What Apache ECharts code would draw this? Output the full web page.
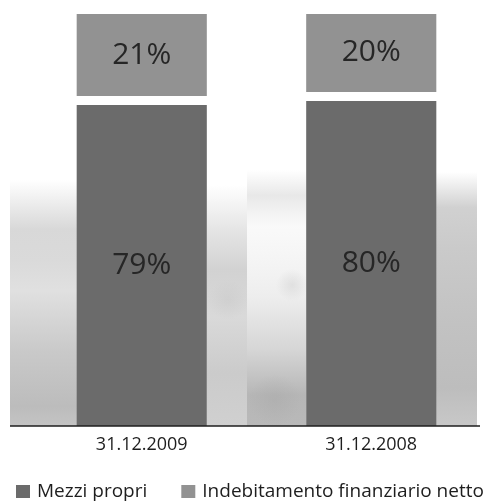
<!DOCTYPE html>
<html>
<head>
<meta charset="utf-8">
<script src="https://cdn.jsdelivr.net/npm/echarts@6/dist/echarts.min.js"></script>
<style>
  html, body { margin: 0; padding: 0; background: #fff; }
  #chart { width: 486px; height: 502px; }
</style>
</head>
<body>
<div id="chart"></div>
<script>
// Capital structure at year end (percent of total)
const categories = ['31.12.2009', '31.12.2008'];
const mezziPropri = [79, 80];
const indebitamento = [21, 20];
const seriesNames = ['Mezzi propri', 'Indebitamento finanziario netto'];

const DARK = '#6b6b6b';
const LIGHT = '#929292';
const GAP = 9;           // white gap between the two segments, px
const BAR_RATIO = 0.567; // bar width relative to category band
const FONT = '"Open Sans", "Noto Sans", sans-serif';

const chart = echarts.init(document.getElementById('chart'), null, { renderer: 'canvas' });

function segment(isTop) {
  return function (params, api) {
    const i = api.value(0);
    const low = api.value(1);
    const high = api.value(2);
    const p0 = api.coord([i, low]);
    const p1 = api.coord([i, high]);
    const w = api.size([1, 0])[0] * BAR_RATIO;
    let y0 = p0[1], y1 = p1[1];
    if (isTop) { y0 -= GAP / 2; } else { y1 += GAP / 2; }
    const h = y0 - y1;
    return {
      type: 'group',
      children: [
        {
          type: 'rect',
          shape: { x: p0[0] - w / 2, y: y1, width: w, height: h },
          style: { fill: isTop ? LIGHT : DARK }
        },
        {
          type: 'text',
          style: {
            text: (high - low) + '%',
            x: p0[0], y: y1 + h / 2,
            align: 'center', verticalAlign: 'middle',
            fill: '#262626',
            font: '30px ' + FONT
          }
        }
      ]
    };
  };
}

const darkData = categories.map((c, i) => [i, 0, mezziPropri[i]]);
const lightData = categories.map((c, i) => [i, mezziPropri[i], mezziPropri[i] + indebitamento[i]]);

// soft, blurred photographic backdrop behind the bars
function panel(x, y, w, h, stops) {
  return {
    type: 'rect', silent: true, z: -11,
    shape: { x: x, y: y, width: w, height: h },
    style: {
      fill: {
        type: 'linear', x: 0, y: 0, x2: 0, y2: 1,
        colorStops: stops.map(s => ({ offset: s[0], color: s[1] }))
      }
    }
  };
}
function blob(cx, cy, rx, ry, gray, a) {
  return {
    type: 'ellipse', silent: true, z: -10,
    shape: { cx: cx, cy: cy, rx: rx, ry: ry },
    style: {
      fill: {
        type: 'radial', x: 0.5, y: 0.5, r: 0.5,
        colorStops: [
          { offset: 0, color: `rgba(${gray},${gray},${gray},${a})` },
          { offset: 1, color: `rgba(${gray},${gray},${gray},0)` }
        ]
      }
    }
  };
}

const backdrop = [
  panel(10, 180, 67, 246, [
    [0, 'rgba(214,214,214,0)'], [0.2, 'rgba(214,214,214,0.95)'], [0.33, '#dadada'],
    [0.45, '#e0e0e0'], [0.7, '#c9c9c9'], [0.92, '#bcbcbc'], [1, '#c4c4c4']
  ]),
  panel(207, 185, 40, 241, [
    [0, 'rgba(224,224,224,0)'], [0.2, 'rgba(224,224,224,0.9)'], [0.35, '#d2d2d2'],
    [0.55, '#d9d9d9'], [0.78, '#cbcbcb'], [1, '#d0d0d0']
  ]),
  panel(247, 170, 59, 256, [
    [0, 'rgba(222,222,222,0)'], [0.1, 'rgba(222,222,222,0.7)'], [0.22, 'rgba(246,246,246,0.6)'],
    [0.5, '#ededed'], [0.7, '#d6d6d6'], [0.88, '#b6b6b6'], [1, '#b9b9b9']
  ]),
  panel(436, 172, 41, 254, [
    [0, 'rgba(206,206,206,0)'], [0.14, 'rgba(206,206,206,0.95)'], [0.3, '#cacaca'],
    [0.6, '#c2c2c2'], [0.85, '#bdbdbd'], [1, '#c8c8c8']
  ]),
  blob(292, 285, 16, 40, 205, 0.45),
  blob(275, 400, 30, 26, 165, 0.35),
  blob(228, 300, 20, 35, 195, 0.35)
];

const option = {
  backgroundColor: '#fff',
  animation: false,
  grid: { left: 27, right: 0, top: 14, bottom: 76 },
  xAxis: {
    type: 'category',
    data: categories,
    axisLine: { show: false },
    axisTick: { show: false },
    axisLabel: {
      margin: 10,
      fontSize: 18,
      color: '#1e1e1e',
      fontFamily: FONT
    }
  },
  yAxis: {
    type: 'value',
    min: 0, max: 100,
    show: false
  },
  legend: {
    left: 16,
    top: 482,
    padding: 0,
    icon: 'rect',
    itemWidth: 14,
    itemHeight: 13,
    itemGap: 34,
    textStyle: {
      fontSize: 19,
      color: '#1e1e1e',
      padding: [0, 0, 0, 2],
      fontFamily: FONT
    },
    data: seriesNames
  },
  graphic: backdrop.concat([
    {
      type: 'line', silent: true, z: 10,
      shape: { x1: 10, y1: 426, x2: 480, y2: 426 },
      style: { stroke: '#1e1e1e', lineWidth: 1.5 }
    }
  ]),
  series: [
    {
      name: seriesNames[0],
      type: 'custom',
      renderItem: segment(false),
      itemStyle: { color: DARK },
      encode: { x: 0, y: [1, 2] },
      data: darkData
    },
    {
      name: seriesNames[1],
      type: 'custom',
      renderItem: segment(true),
      itemStyle: { color: LIGHT },
      encode: { x: 0, y: [1, 2] },
      data: lightData
    }
  ]
};

chart.setOption(option);
</script>
</body>
</html>
